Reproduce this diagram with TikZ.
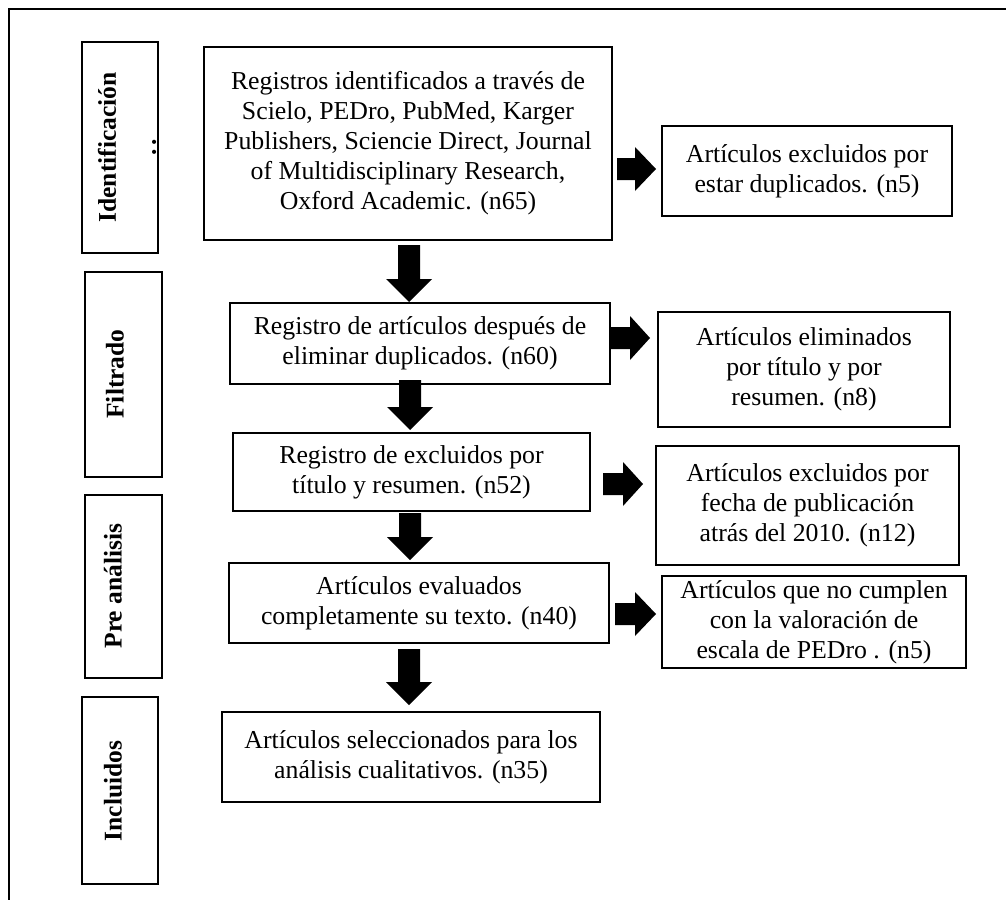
\documentclass[tikz,border=0pt]{standalone}
\usepackage{fontspec}
\setmainfont{Liberation Serif}
\newcommand\DownBlk[4]{%
  \fill[black] (#1-11,#2) -- (#1+11,#2) -- (#1+11,#3) -- (#1+23,#3) -- (#1,#4) -- (#1-23,#3) -- (#1-11,#3) -- cycle;}
\newcommand\RightBlk[4]{%
  \fill[black] (#2,#1-11) -- (#2,#1+11) -- (#3,#1+11) -- (#3,#1+22) -- (#4,#1) -- (#3,#1-22) -- (#3,#1-11) -- cycle;}
\begin{document}
\begin{tikzpicture}[x=1pt,y=-1pt,
  box/.style={draw, line width=2pt, inner sep=0pt, align=center, font=\fontsize{25.8}{30}\selectfont},
  side/.style={draw, line width=2.5pt, inner sep=0pt},
  sidetxt/.style={rotate=90, font=\fontsize{25.5}{30}\selectfont\bfseries, align=center, inner sep=0pt}]
\useasboundingbox (0,0) rectangle (1006,899);
\draw[line width=2pt] (9,920) -- (9,9) -- (1030,9);

% side label boxes
\node[side, minimum width=76, minimum height=211] (s1) at (120,147.5) {};
\node[side, minimum width=77, minimum height=205] (s2) at (123.5,374.5) {};
\node[side, minimum width=77, minimum height=183] (s3) at (123.5,586.5) {};
\node[side, minimum width=76, minimum height=187] (s4) at (120,790.5) {};
\node[sidetxt] (t1) at (127,147.5) {Identificación\\[10pt].\hspace{3.5pt}.};
\node[sidetxt] (t2) at (115,374) {Filtrado};
\node[sidetxt] (t3) at (113,586) {Pre análisis};
\node[sidetxt] (t4) at (113,791) {Incluidos};

% main column
\node[box, minimum width=408, minimum height=193] (b1) at (408,143.5)
  {Registros identificados a través de\\Scielo, PEDro, PubMed, Karger\\Publishers, Sciencie Direct, Journal\\of Multidisciplinary Research,\\Oxford Academic. (n65)};
\node[box, minimum width=380, minimum height=81] (b2) at (420,343.5)
  {Registro de artículos después de\\eliminar duplicados. (n60)};
\node[box, minimum width=357, minimum height=78] (b3) at (411.5,472)
  {Registro de excluidos por\\título y resumen. (n52)};
\node[box, minimum width=380, minimum height=80] (b4) at (419,603)
  {Artículos evaluados\\completamente su texto. (n40)};
\node[box, minimum width=378, minimum height=90] (b5) at (411,757)
  {Artículos seleccionados para los\\análisis cualitativos. (n35)};

% right column
\node[box, minimum width=290, minimum height=90] (r1) at (807,171)
  {Artículos excluidos por\\estar duplicados. (n5)};
\node[box, minimum width=292, minimum height=115] (r2) at (804,369.5)
  {Artículos eliminados\\por título y por\\resumen. (n8)};
\node[box, minimum width=303, minimum height=119] (r3) at (807.5,505.5)
  {Artículos excluidos por\\fecha de publicación\\atrás del 2010. (n12)};
\node[box, minimum width=304, minimum height=92] (r4) at (814,622)
  {Artículos que no cumplen\\con la valoración de\\escala de PEDro . (n5)};

% block arrows
\DownBlk{409}{245}{279}{302}
\DownBlk{410}{380}{407}{430}
\DownBlk{410}{513}{537}{560}
\DownBlk{409}{649}{682}{705}
\RightBlk{169}{617}{635}{656}
\RightBlk{338}{610}{630}{650}
\RightBlk{484}{603}{623}{643}
\RightBlk{614}{615}{635}{656}
\end{tikzpicture}
\end{document}
